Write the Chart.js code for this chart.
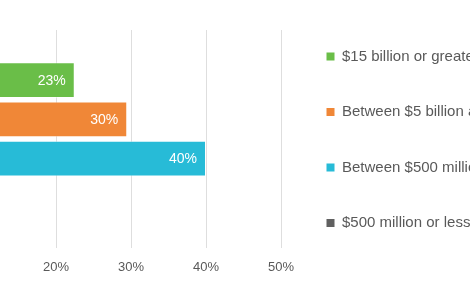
<!DOCTYPE html>
<html>
<head>
<meta charset="utf-8">
<script src="https://cdn.jsdelivr.net/npm/chart.js@4"></script>
<style>
    html, body { margin: 0; padding: 0; width: 470px; height: 300px; overflow: hidden; background: #fff; }
    #wrap { position: absolute; left: -150px; top: 0; }
</style>
</head>
<body>
<div id="wrap"><canvas id="myChart" width="686" height="300"></canvas></div>
<script>
const categories = [''];
const seriesNames = ['$15 billion or greater', 'Between $5 billion and $15 billion', 'Between $500 million and $5 billion', '$500 million or less'];
const over15b = [22.5];
const from5to15b = [29.5];
const from500mTo5b = [40];
const under500m = [7];
const colors = ['#6abe48', '#f08737', '#27bbd7', '#606060'];

// white value labels at the end of each bar
const barLabels = {
    id: 'barLabels',
    afterDatasetsDraw(chart) {
        const c = chart.ctx;
        c.save();
        c.font = '14px "Liberation Sans", Arial, sans-serif';
        c.fillStyle = '#ffffff';
        c.textAlign = 'right';
        c.textBaseline = 'middle';
        chart.data.datasets.forEach((ds, i) => {
            chart.getDatasetMeta(i).data.forEach((bar, j) => {
                c.fillText(Math.round(ds.data[j]) + '%', bar.x - 9, bar.y + 1);
            });
        });
        c.restore();
    }
};

const allSeries = [over15b, from5to15b, from500mTo5b, under500m];

const ctx = document.getElementById('myChart').getContext('2d');
const myChart = new Chart(ctx, {
    type: 'bar',
    data: {
        labels: categories,
        datasets: allSeries.map((d, i) => ({
            label: seriesNames[i],
            data: d,
            backgroundColor: colors[i],
            borderColor: 'rgba(255,255,255,0.45)',
            borderWidth: 1,
            categoryPercentage: 0.72,
            barPercentage: 0.906
        }))
    },
    options: {
        indexAxis: 'y',
        responsive: false,
        animation: false,
        layout: {
            padding: { left: 56, top: 4, bottom: 24.5, right: 0 }
        },
        plugins: {
            tooltip: { enabled: false },
            // empty title only keeps the plot area below the top margin
            title: {
                display: true,
                text: '',
                fullSize: false,
                font: { size: 12 },
                padding: { top: 11.6, bottom: 0 }
            },
            legend: {
                position: 'right',
                maxWidth: 250,
                labels: {
                    boxWidth: 8,
                    boxHeight: 8,
                    padding: 40.5,
                    color: '#595959',
                    font: { size: 15, family: '"Liberation Sans", Arial, sans-serif' },
                    generateLabels(chart) {
                        return Chart.defaults.plugins.legend.labels.generateLabels(chart).map(l => {
                            l.lineWidth = 0;
                            return l;
                        });
                    }
                }
            }
        },
        scales: {
            x: {
                min: 0,
                max: 50,
                border: { display: false },
                grid: { color: '#dedede', drawTicks: false },
                ticks: {
                    stepSize: 10,
                    padding: 12,
                    color: '#595959',
                    font: { size: 13, family: '"Liberation Sans", Arial, sans-serif' },
                    callback: v => v + '%'
                },
                afterFit: s => { s.height = 27.5; }
            },
            y: {
                position: 'right',
                border: { display: false },
                grid: { display: false },
                ticks: { display: false },
                afterFit: s => { s.width = 5; }
            }
        }
    },
    plugins: [barLabels]
});
</script>
</body>
</html>
